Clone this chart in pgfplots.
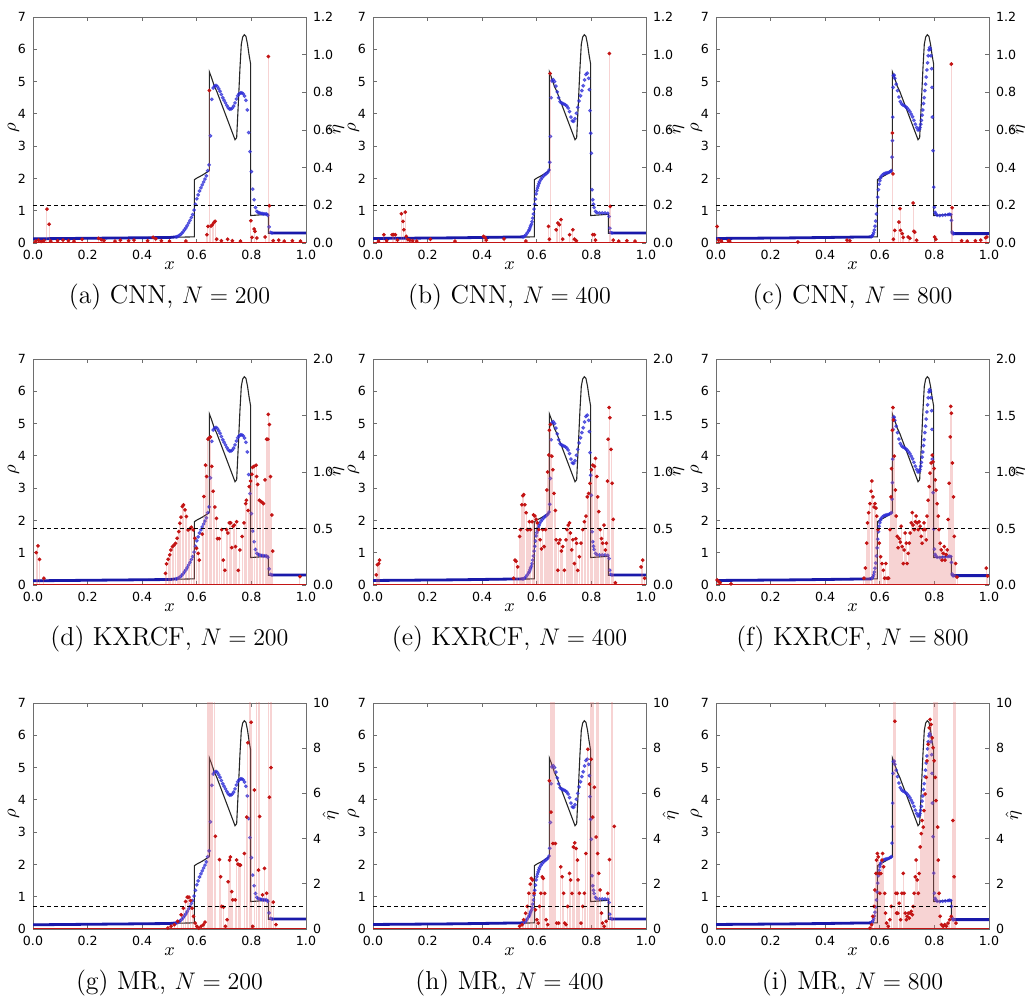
\documentclass[border=0pt]{standalone}
\usepackage{fontspec}
\usepackage{pgfplots}
\usepackage{pgfplotstable}
\pgfplotsset{compat=1.18}
\newfontfamily\tickfont{DejaVu Sans}
\definecolor{bluedot}{RGB}{45,45,215}
\definecolor{blueline}{RGB}{25,25,170}
\definecolor{reddot}{RGB}{195,20,20}
\definecolor{stem}{RGB}{230,110,110}
\definecolor{framec}{RGB}{110,110,110}

\pgfplotstableread{
x y
0 0.14
0.25 0.155
0.50 0.175
0.591 0.19
0.591 1.96
0.600 2.01
0.620 2.10
0.646 2.24
0.646 5.30
0.654 5.12
0.664 4.86
0.673 4.70
0.740 3.20
0.746 3.26
0.752 4.30
0.758 5.40
0.763 6.15
0.768 6.38
0.774 6.45
0.780 6.40
0.786 6.15
0.791 5.85
0.797 5.55
0.797 0.85
0.830 0.87
0.862 0.89
0.862 0.30
1.0 0.30
}\exact

\pgfplotstableread{
x y
0 0.13
0.25 0.15
0.5 0.17
0.525 0.19
nan nan
0.875 0.31
1 0.31
}\bAline
\pgfplotstableread{
x y
0 0.14
0.3 0.16
0.55 0.19
nan nan
0.875 0.31
1 0.31
}\bBline
\pgfplotstableread{
x y
0 0.14
0.3 0.16
0.57 0.19
nan nan
0.87 0.29
1 0.29
}\bCline

\pgfplotstableread{
x y
0.525 0.19
0.530 0.20
0.535 0.23
0.540 0.26
0.545 0.30
0.550 0.35
0.555 0.41
0.560 0.47
0.565 0.54
0.570 0.62
0.575 0.70
0.580 0.79
0.585 0.88
0.590 1.02
0.595 1.20
0.600 1.37
0.605 1.49
0.610 1.61
0.615 1.71
0.620 1.80
0.625 1.89
0.630 1.98
0.635 2.08
0.640 2.24
0.645 2.42
0.650 3.32
0.655 4.45
0.660 4.80
0.665 4.86
0.670 4.88
0.675 4.85
0.680 4.78
0.685 4.70
0.690 4.60
0.695 4.50
0.700 4.42
0.705 4.34
0.710 4.26
0.715 4.19
0.720 4.15
0.725 4.15
0.730 4.18
0.735 4.24
0.740 4.34
0.745 4.46
0.750 4.56
0.755 4.62
0.760 4.65
0.765 4.65
0.770 4.62
0.775 4.55
0.780 4.42
0.785 4.12
0.790 3.42
0.795 2.83
0.800 2.21
0.805 1.67
0.810 1.34
0.815 1.10
0.820 0.98
0.825 0.94
0.830 0.93
0.835 0.92
0.840 0.91
0.845 0.90
0.850 0.90
0.855 0.90
0.860 0.86
0.865 0.50
0.870 0.33
0.875 0.31
}\bA

\pgfplotstableread{
x y
0.550 0.19
0.555 0.21
0.560 0.25
0.565 0.31
0.570 0.37
0.5725 0.41
0.575 0.47
0.5775 0.53
0.580 0.58
0.5825 0.66
0.585 0.77
0.5875 0.90
0.590 1.05
0.5925 1.20
0.595 1.36
0.5975 1.52
0.600 1.62
0.6025 1.70
0.605 1.77
0.6075 1.84
0.610 1.90
0.615 1.97
0.620 2.03
0.625 2.08
0.630 2.12
0.635 2.15
0.640 2.19
0.645 2.26
0.6475 2.50
0.650 3.30
0.6525 4.50
0.655 5.02
0.660 5.06
0.665 5.00
0.670 4.86
0.675 4.68
0.680 4.50
0.685 4.38
0.690 4.34
0.695 4.32
0.700 4.30
0.705 4.28
0.710 4.24
0.715 4.18
0.720 4.07
0.725 3.90
0.730 3.78
0.735 3.77
0.740 3.85
0.745 4.02
0.750 4.20
0.755 4.40
0.760 4.56
0.765 4.72
0.770 4.87
0.775 5.05
0.780 5.22
0.785 5.26
0.790 5.10
0.7925 4.75
0.795 4.10
0.7975 3.40
0.800 2.78
0.8025 1.65
0.805 1.34
0.8075 1.20
0.810 1.10
0.815 0.98
0.820 0.94
0.830 0.93
0.840 0.93
0.850 0.93
0.860 0.92
0.865 0.82
0.8675 0.46
0.870 0.33
0.875 0.31
}\bB

\pgfplotstableread{
x y
0.570 0.20
0.5725 0.22
0.575 0.26
0.5775 0.32
0.580 0.40
0.5825 0.52
0.585 0.68
0.5875 0.90
0.590 1.15
0.5925 1.42
0.595 1.65
0.5975 1.82
0.600 1.93
0.6025 2.01
0.605 2.06
0.610 2.11
0.615 2.14
0.620 2.16
0.625 2.17
0.630 2.18
0.635 2.20
0.640 2.22
0.6425 2.24
0.645 2.66
0.6462 3.17
0.6475 3.90
0.6487 4.82
0.650 5.18
0.6525 5.20
0.655 5.10
0.660 4.92
0.665 4.72
0.670 4.52
0.675 4.38
0.680 4.31
0.685 4.27
0.690 4.25
0.695 4.22
0.700 4.18
0.705 4.13
0.710 4.07
0.715 3.99
0.720 3.91
0.725 3.80
0.730 3.68
0.735 3.58
0.740 3.50
0.745 3.52
0.7475 3.58
0.750 3.68
0.7525 3.80
0.755 3.96
0.7575 4.12
0.760 4.32
0.7625 4.50
0.765 4.72
0.7675 4.92
0.770 5.14
0.7725 5.36
0.775 5.58
0.7775 5.80
0.780 5.98
0.7825 6.05
0.785 6.00
0.7875 5.80
0.790 5.40
0.7912 4.82
0.7925 3.90
0.795 2.86
0.7975 1.73
0.800 1.11
0.8025 0.95
0.805 0.90
0.810 0.86
0.820 0.85
0.830 0.86
0.840 0.87
0.850 0.88
0.855 0.89
0.860 0.88
0.8625 0.70
0.865 0.34
0.8675 0.29
0.870 0.29
}\bC

\pgfplotstableread{
x y
0.010 0.010
0.020 0.015
0.030 0.008
0.040 0.012
0.051 0.180
0.059 0.100
0.065 0.010
0.090 0.012
0.110 0.015
0.130 0.012
0.150 0.010
0.180 0.020
0.240 0.025
0.250 0.018
0.260 0.012
0.300 0.010
0.320 0.015
0.350 0.012
0.370 0.015
0.420 0.012
0.440 0.030
0.450 0.022
0.470 0.012
0.500 0.010
0.560 0.010
0.637 0.044
0.641 0.088
0.646 0.810
0.652 0.090
0.657 0.097
0.663 0.110
0.667 0.115
0.673 0.020
0.690 0.012
0.713 0.020
0.730 0.012
0.760 0.010
0.798 0.118
0.802 0.030
0.810 0.074
0.813 0.062
0.820 0.026
0.850 0.032
0.862 0.990
0.866 0.198
0.880 0.012
0.900 0.015
0.920 0.010
0.950 0.012
0.980 0.010
}\rA

\pgfplotstableread{
x y
0.020 0.010
0.040 0.044
0.050 0.012
0.070 0.044
0.076 0.044
0.082 0.044
0.090 0.015
0.104 0.155
0.110 0.115
0.113 0.070
0.118 0.164
0.122 0.035
0.128 0.018
0.135 0.015
0.145 0.012
0.160 0.010
0.210 0.020
0.300 0.010
0.405 0.035
0.410 0.030
0.415 0.015
0.480 0.022
0.560 0.010
0.643 0.088
0.646 0.020
0.649 0.900
0.671 0.070
0.677 0.106
0.683 0.097
0.689 0.124
0.695 0.020
0.720 0.044
0.732 0.070
0.738 0.020
0.745 0.012
0.805 0.044
0.811 0.044
0.815 0.015
0.866 1.006
0.869 0.194
0.880 0.015
0.900 0.010
0.930 0.012
0.960 0.010
}\rB

\pgfplotstableread{
x y
0.004 0.088
0.010 0.015
0.020 0.010
0.045 0.012
0.050 0.010
0.300 0.005
0.480 0.015
0.490 0.012
0.646 0.584
0.648 0.367
0.650 0.020
0.655 0.067
0.670 0.111
0.674 0.182
0.676 0.067
0.682 0.050
0.686 0.030
0.704 0.032
0.710 0.025
0.722 0.212
0.725 0.062
0.728 0.058
0.735 0.015
0.801 0.032
0.805 0.020
0.862 0.950
0.865 0.187
0.900 0.012
0.920 0.010
0.950 0.012
0.970 0.015
0.988 0.028
0.992 0.032
}\rC

\pgfplotstableread{
x y
0.012 0.287
0.018 0.346
0.024 0.227
0.040 0.060
0.485 0.103
0.489 0.186
0.495 0.227
0.501 0.266
0.505 0.310
0.511 0.340
0.516 0.352
0.522 0.369
0.528 0.414
0.534 0.473
0.538 0.547
0.542 0.600
0.547 0.694
0.551 0.709
0.557 0.665
0.562 0.606
0.568 0.487
0.575 0.499
0.580 0.511
0.587 0.487
0.593 0.414
0.599 0.325
0.605 0.280
0.609 0.220
0.620 0.450
0.626 0.783
0.632 1.060
0.636 0.960
0.641 1.290
0.645 1.300
0.650 1.310
0.655 1.050
0.660 0.830
0.666 0.690
0.672 0.590
0.676 0.410
0.682 0.410
0.691 0.490
0.697 0.220
0.703 0.130
0.709 0.490
0.714 0.460
0.719 0.550
0.724 0.550
0.728 0.330
0.733 0.520
0.737 0.530
0.742 0.340
0.746 0.560
0.752 0.130
0.758 0.310
0.766 0.430
0.773 0.550
0.779 0.720
0.782 0.750
0.788 0.660
0.792 0.870
0.797 0.920
0.802 0.980
0.804 1.040
0.810 1.050
0.817 1.060
0.819 0.960
0.823 0.890
0.829 0.750
0.834 0.740
0.840 0.730
0.844 0.720
0.850 0.930
0.856 1.290
0.860 1.290
0.862 1.510
0.866 1.420
0.870 0.960
0.875 0.620
0.878 0.300
0.978 0.074
}\rD

\pgfplotstableread{
x y
0.012 0.09
0.016 0.18
0.021 0.19
0.024 0.22
0.515 0.06
0.520 0.22
0.524 0.21
0.530 0.16
0.537 0.43
0.540 0.49
0.545 0.71
0.549 0.79
0.552 0.80
0.556 0.71
0.561 0.64
0.565 0.49
0.568 0.49
0.573 0.56
0.577 0.49
0.583 0.56
0.588 0.62
0.593 0.61
0.598 0.58
0.602 0.55
0.607 0.49
0.612 0.40
0.617 0.32
0.622 0.49
0.627 0.34
0.632 0.49
0.637 0.84
0.640 1.00
0.644 1.15
0.646 1.37
0.650 1.42
0.655 1.14
0.659 1.02
0.663 0.81
0.668 0.66
0.671 0.40
0.677 0.13
0.680 0.37
0.685 0.40
0.690 0.30
0.695 0.34
0.701 0.13
0.707 0.40
0.711 0.49
0.715 0.53
0.720 0.55
0.723 0.46
0.728 0.31
0.732 0.40
0.738 0.19
0.743 0.41
0.746 0.37
0.750 0.13
0.756 0.25
0.762 0.37
0.768 0.49
0.774 0.56
0.780 0.61
0.785 0.78
0.790 0.81
0.795 0.90
0.800 1.02
0.805 1.06
0.811 1.05
0.815 1.12
0.820 0.96
0.823 0.78
0.827 0.65
0.832 0.49
0.837 0.41
0.841 0.37
0.846 0.53
0.851 0.31
0.855 0.37
0.859 0.92
0.861 1.29
0.865 1.57
0.868 1.48
0.872 1.20
0.876 0.90
0.880 0.58
0.888 0.02
0.982 0.16
0.988 0.22
0.995 0.06
}\rE

\pgfplotstableread{
x y
0.004 0.045
0.010 0.030
0.015 0.020
0.055 0.010
0.542 0.06
0.547 0.15
0.552 0.37
0.555 0.55
0.559 0.64
0.564 0.72
0.568 0.83
0.571 0.92
0.575 0.78
0.579 0.69
0.582 0.72
0.586 0.68
0.589 0.61
0.593 0.49
0.598 0.37
0.603 0.25
0.608 0.19
0.613 0.13
0.618 0.06
0.622 0.19
0.627 0.06
0.632 0.06
0.637 0.49
0.641 0.78
0.643 1.03
0.646 1.37
0.648 1.57
0.650 1.46
0.653 1.14
0.657 0.84
0.660 0.61
0.664 0.43
0.667 0.33
0.671 0.41
0.675 0.38
0.678 0.52
0.682 0.34
0.686 0.19
0.689 0.31
0.693 0.46
0.697 0.37
0.700 0.19
0.704 0.28
0.708 0.37
0.711 0.46
0.715 0.55
0.719 0.64
0.722 0.53
0.726 0.49
0.730 0.56
0.733 0.61
0.737 0.55
0.741 0.49
0.744 0.56
0.748 0.52
0.752 0.43
0.755 0.37
0.759 0.49
0.762 0.55
0.766 0.49
0.770 0.40
0.773 0.61
0.777 0.75
0.781 0.87
0.784 0.99
0.788 1.08
0.792 1.15
0.795 1.09
0.799 1.03
0.803 0.93
0.806 0.84
0.810 0.72
0.814 0.61
0.817 0.49
0.821 0.37
0.825 0.31
0.828 0.22
0.832 0.28
0.836 0.34
0.839 0.22
0.843 0.27
0.847 0.31
0.850 0.58
0.854 0.90
0.858 1.31
0.860 1.58
0.862 1.52
0.866 1.08
0.870 0.78
0.873 0.43
0.878 0.19
0.883 0.07
0.990 0.15
0.995 0.08
}\rF

\pgfplotstableread{
x y
0.494 0.04
0.506 0.12
0.518 0.19
0.530 0.34
0.543 0.63
0.551 0.92
0.559 1.22
0.565 1.41
0.571 1.41
0.577 1.26
0.583 0.92
0.588 0.56
0.594 0.26
0.600 0.12
0.607 0.04
0.616 0.12
0.624 0.19
0.630 0.30
0.638 15
0.642 15
0.646 15
0.650 15
0.654 15
0.659 15
0.664 15
0.668 4.10
0.683 3.07
0.687 2.31
0.691 1.00
0.698 0.97
0.705 0.12
0.711 0.41
0.715 2.09
0.720 3.05
0.723 3.19
0.728 1.65
0.732 1.29
0.741 1.29
0.746 3.05
0.751 2.87
0.756 2.83
0.760 2.83
0.774 3.34
0.783 4.95
0.787 8.24
0.794 15
0.798 15
0.799 9.15
0.805 0.12
0.811 6.15
0.820 15
0.825 15
0.830 15
0.826 2.61
0.830 4.98
0.841 1.51
0.848 2.68
0.856 1.58
0.864 15
0.866 5.83
0.870 15
0.872 7.14
0.875 15
0.880 1.19
0.890 0.19
}\rG

\pgfplotstableread{
x y
0.537 0.12
0.546 0.19
0.552 0.41
0.559 0.70
0.565 1.00
0.571 1.58
0.576 1.99
0.580 2.24
0.585 2.17
0.590 1.58
0.595 0.85
0.600 0.41
0.605 0.26
0.610 1.00
0.615 1.58
0.620 2.31
0.624 2.24
0.629 1.58
0.634 0.41
0.640 0.19
0.646 6.56
0.650 15
0.652 5.17
0.654 15
0.658 15
0.659 3.78
0.662 15
0.666 15
0.668 3.78
0.673 0.26
0.680 0.26
0.688 2.75
0.693 2.31
0.698 1.58
0.702 0.26
0.707 0.19
0.713 1.00
0.720 2.46
0.724 2.17
0.729 1.58
0.734 3.63
0.739 3.81
0.744 3.56
0.749 3.05
0.751 2.17
0.756 1.58
0.762 0.26
0.768 1.00
0.774 1.58
0.780 3.34
0.787 7.95
0.793 6.41
0.796 15
0.799 7.51
0.800 15
0.804 15
0.805 4.95
0.808 15
0.811 6.27
0.817 4.07
0.818 15
0.822 15
0.823 3.34
0.826 15
0.827 2.46
0.832 1.73
0.837 0.70
0.841 0.26
0.847 0.12
0.854 0.34
0.860 1.58
0.866 3.07
0.874 15
0.878 15
0.884 4.54
}\rH

\pgfplotstableread{
x y
0.564 0.04
0.570 0.19
0.574 0.56
0.579 1.00
0.582 1.73
0.586 2.46
0.588 3.05
0.591 3.34
0.594 3.19
0.598 2.46
0.600 1.58
0.604 2.46
0.608 3.05
0.610 3.34
0.614 2.75
0.618 1.58
0.621 0.70
0.625 0.26
0.631 0.12
0.637 0.41
0.642 1.00
0.649 15
0.651 15
0.653 15
0.655 9.19
0.657 15
0.659 1.58
0.661 0.70
0.664 1.58
0.666 0.70
0.671 1.14
0.676 0.41
0.681 1.58
0.686 2.46
0.689 1.58
0.693 0.70
0.697 0.41
0.700 0.56
0.704 0.70
0.708 0.48
0.711 0.70
0.715 0.78
0.719 0.63
0.722 1.00
0.726 1.58
0.730 2.31
0.733 3.05
0.737 2.17
0.741 1.58
0.744 2.46
0.748 3.63
0.752 4.22
0.755 4.80
0.759 4.51
0.762 5.24
0.766 5.97
0.770 6.71
0.773 7.44
0.777 8.17
0.781 8.90
0.784 9.27
0.788 9.05
0.792 8.46
0.795 8.02
0.798 15
0.799 7.44
0.801 15
0.803 6.71
0.804 15
0.806 5.68
0.807 15
0.810 15
0.812 4.51
0.813 15
0.814 3.05
0.817 1.58
0.821 0.56
0.826 0.19
0.832 0.12
0.838 0.19
0.844 0.12
0.850 0.26
0.856 0.41
0.862 0.56
0.868 4.80
0.871 15
0.872 2.31
0.874 15
0.877 15
0.879 0.26
}\rI

\pgfplotsset{
  base/.style={width=136.5pt, height=113pt, scale only axis, xmin=0, xmax=1,
    tick align=inside, major tick length=2pt,
    every tick/.style={framec, line width=0.4pt},
    axis line style={framec, line width=0.5pt},
    tick label style={font=\tickfont\fontsize{6.3}{7}\selectfont},
    /pgf/number format/assume math mode=true,
    label style={font=\fontsize{9}{10}\selectfont},
    clip mode=individual},
  main/.style={base, ymin=0, ymax=7, ytick={0,1,2,3,4,5,6,7},
    xtick={0,0.2,0.4,0.6,0.8,1}, xtick pos=both, ytick pos=left,
    xticklabel style={/pgf/number format/.cd, fixed, fixed zerofill, precision=1},
    xlabel={$x$}, ylabel={$\rho$},
    xlabel style={at={(axis description cs:0.5,-0.1)}, anchor=center},
    ylabel style={at={(axis description cs:-0.071,0.51)}, anchor=center}},
  sec/.style={base, axis y line*=right, hide x axis, ylabel={$\hat{\eta}$},
    ylabel style={at={(axis description cs:1.11,0.5)}, anchor=center}},
  rowA/.style={ymin=0, ymax=1.2, ytick={0,0.2,0.4,0.6,0.8,1.0,1.2},
    yticklabel style={/pgf/number format/.cd, fixed, fixed zerofill, precision=1}},
  rowB/.style={ymin=0, ymax=2, ytick={0,0.5,1,1.5,2},
    yticklabel style={/pgf/number format/.cd, fixed, fixed zerofill, precision=1}},
  rowC/.style={ymin=0, ymax=10, ytick={0,2,4,6,8,10},
    ylabel style={at={(axis description cs:1.09,0.5)}}},
  bluemarks/.style={only marks, mark=*, color=bluedot, mark size=0.75pt, opacity=0.68},
  redmarks/.style={only marks, mark=*, color=reddot, mark size=0.72pt},
}

\newcommand{\Panel}[8]{%
\begin{axis}[main, at={(#1pt,#2pt)}, anchor=south west]
  \addplot[black!85, line width=0.55pt] table {\exact};
  \addplot[blueline, line width=1.4pt, unbounded coords=jump] table {#4};
  \addplot[bluemarks] table {#3};
\end{axis}
\begin{axis}[sec, #6, at={(#1pt,#2pt)}, anchor=south west]
  \addplot[ycomb, draw=stem, draw opacity=0.3, line width=0.5pt] table {#5};
  \addplot[reddot, line width=0.9pt] coordinates {(0,0) (1,0)};
  \addplot[redmarks] table {#5};
  \addplot[black, line width=0.5pt, dash pattern=on 2pt off 1.5pt] coordinates {(0,#7) (1,#7)};
\end{axis}
\node[font=\fontsize{13}{15}\selectfont] at ({#1pt+68.25pt},{#2pt-27pt}) {#8};
}

\begin{document}
\begin{tikzpicture}
\path[use as bounding box] (0,0) rectangle (512.5pt,501.5pt);
\Panel{16.5}{380}{\bA}{\bAline}{\rA}{rowA}{0.2}{(a) CNN, $N=200$}
\Panel{186.5}{380}{\bB}{\bBline}{\rB}{rowA}{0.2}{(b) CNN, $N=400$}
\Panel{358}{380}{\bC}{\bCline}{\rC}{rowA}{0.2}{(c) CNN, $N=800$}
\Panel{16.5}{209}{\bA}{\bAline}{\rD}{rowB}{0.5}{(d) KXRCF, $N=200$}
\Panel{186.5}{209}{\bB}{\bBline}{\rE}{rowB}{0.5}{(e) KXRCF, $N=400$}
\Panel{358}{209}{\bC}{\bCline}{\rF}{rowB}{0.5}{(f) KXRCF, $N=800$}
\Panel{16.5}{37}{\bA}{\bAline}{\rG}{rowC}{1}{(g) MR, $N=200$}
\Panel{186.5}{37}{\bB}{\bBline}{\rH}{rowC}{1}{(h) MR, $N=400$}
\Panel{358}{37}{\bC}{\bCline}{\rI}{rowC}{1}{(i) MR, $N=800$}
\end{tikzpicture}
\end{document}
